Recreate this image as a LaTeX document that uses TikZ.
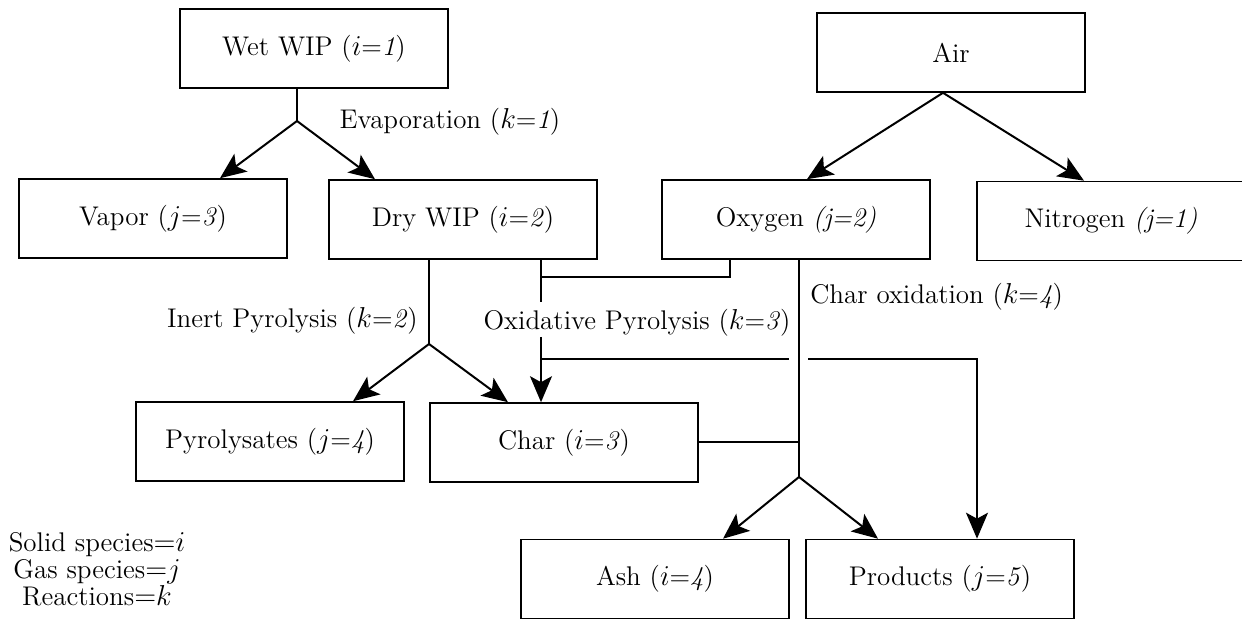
\documentclass[tikz,border=0pt]{standalone}
\usepackage{tikz}
\usetikzlibrary{arrows.meta, positioning}
\tikzset{
  species/.style={rectangle, draw=black, line width=0.8pt, fill=white,
                  minimum width=134pt, minimum height=39.5pt, align=center,
                  font=\fontsize{13.5}{16}\selectfont},
  rxn/.style={font=\fontsize{13.5}{16}\selectfont, inner sep=0pt},
  link/.style={line width=1pt},
  arrow/.style={-{Stealth[length=13pt, width=11pt, inset=3pt]}, line width=1pt},
}

\begin{document}
\begin{tikzpicture}[x=0.5pt, y=-0.5pt]
  \useasboundingbox (0,0) rectangle (1242,619);

  % Feed boxes
  \node[species] (wet) at (314,48.5) {Wet WIP ($i$=\textit{1})};
  \node[species] (air) at (951,52.5) {Air};

  % Second row
  \node[species] (vapor) at (153,218.5) {Vapor ($j$=\textit{3})};
  \node[species] (dry) at (463,219.5) {Dry WIP ($i$=\textit{2})};
  \node[species] (oxy) at (796,219.5) {Oxygen \textit{(j=2)}};
  \node[species] (nitro) at (1111,221) {Nitrogen \textit{(j=1)}};

  % Third row
  \node[species] (pyro) at (270,441.5) {Pyrolysates ($j$=\textit{4})};
  \node[species] (char) at (564,442.5) {Char ($i$=\textit{3})};

  % Final products
  \node[species] (ash) at (655,579) {Ash ($i$=\textit{4})};
  \node[species] (prod) at (940,579) {Products ($j$=\textit{5})};

  % Evaporation
  \coordinate (evap) at (297,121);
  \draw[link] (wet.south -| evap) -- (evap);
  \draw[arrow] (evap) -- (vapor.north -| 220,0);
  \draw[arrow] (evap) -- (dry.north -| 375,0);
  \node[rxn] (evaplbl) at (450,122) {Evaporation ($k$=\textit{1})};

  % Air split
  \coordinate (airsplit) at (air.south -| 943,0);
  \draw[arrow] (airsplit) -- (oxy.north -| 807,0);
  \draw[arrow] (airsplit) -- (nitro.north -| 1084,0);

  % Inert pyrolysis
  \coordinate (inert) at (429,344);
  \draw[link] (dry.south -| inert) -- (inert);
  \draw[arrow] (inert) -- (pyro.north -| 353,0);
  \draw[arrow] (inert) -- (char.north -| 508,0);
  \node[rxn, anchor=east] (inertlbl) at (418,321) {Inert Pyrolysis ($k$=\textit{2})};

  % Oxidative pyrolysis
  \coordinate (oxjoin) at (541,277);
  \coordinate (oxgapA) at (541,302);
  \coordinate (oxgapB) at (541,337);
  \coordinate (oxout) at (541,359);
  \coordinate (oxoutA) at (789,359);
  \coordinate (oxoutB) at (808,359);
  \draw[link] (dry.south -| oxjoin) -- (oxgapA);
  \draw[link] (oxjoin) -| (oxy.south -| 730,0);
  \draw[arrow] (oxgapB) -- (char.north -| oxgapB);
  \draw[link] (oxout) -- (oxoutA);
  \draw[arrow] (oxoutB) -| (prod.north -| 977,0);
  \node[rxn] (oxlbl) at (637,323) {Oxidative Pyrolysis ($k$=\textit{3})};

  % Char oxidation
  \coordinate (charox) at (799,477);
  \draw[link] (oxy.south -| charox) -- (charox);
  \draw[link] (char.east) -- (char.east -| charox);
  \draw[arrow] (charox) -- (ash.north -| 723,0);
  \draw[arrow] (charox) -- (prod.north -| 878,0);
  \node[rxn, anchor=west] (charoxlbl) at (810,297) {Char oxidation ($k$=\textit{4})};

  % Legend
  \node[rxn, align=center, font=\fontsize{13.5}{13.5}\selectfont] (legend) at (97,569)
    {Solid species$\mathord{=}i$\\Gas species$\mathord{=}j$\\Reactions$\mathord{=}k$};

\end{tikzpicture}
\end{document}
